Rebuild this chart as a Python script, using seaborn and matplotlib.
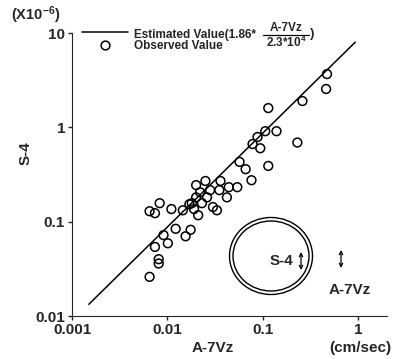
import matplotlib
matplotlib.use("Agg")
import matplotlib.pyplot as plt
import seaborn as sns
from matplotlib.lines import Line2D
from matplotlib.patches import Ellipse, FancyArrowPatch

obs_x = [0.47, 0.46, 0.26, 0.114, 0.139, 0.106, 0.088, 0.078, 0.094, 0.23,
         0.057, 0.066, 0.114, 0.076, 0.036, 0.025, 0.044, 0.054, 0.020, 0.028,
         0.035, 0.022, 0.020, 0.026, 0.042, 0.018, 0.023, 0.030, 0.033, 0.021,
         0.019, 0.017, 0.0145, 0.011, 0.0083, 0.0074, 0.0065, 0.0122, 0.0175, 0.0155,
         0.0091, 0.0101, 0.0074, 0.0081, 0.0081, 0.0065]
obs_y = [3.67, 2.55, 1.9, 1.6, 0.91, 0.91, 0.79, 0.665, 0.60, 0.69,
         0.43, 0.36, 0.39, 0.275, 0.27, 0.27, 0.232, 0.232, 0.244, 0.216,
         0.216, 0.205, 0.181, 0.181, 0.181, 0.157, 0.157, 0.143, 0.132, 0.117,
         0.136, 0.153, 0.132, 0.136, 0.157, 0.123, 0.129, 0.084, 0.082, 0.070,
         0.072, 0.059, 0.054, 0.040, 0.036, 0.026]

# estimated line
est_x = [0.0015, 0.93]
est_y = [0.0133, 8.0]

xticks = [0.001, 0.01, 0.1, 1]
xtick_labels = ["0.001", "0.01", "0.1", "1"]
yticks = [0.01, 0.1, 1, 10]
ytick_labels = ["0.01", "0.1", "1", "10"]

sns.set_style("ticks")
plt.rcParams['font.family'] = ['Liberation Sans', 'DejaVu Sans']
plt.rcParams['font.weight'] = 'bold'
plt.rcParams['mathtext.fontset'] = 'custom'
plt.rcParams['mathtext.rm'] = 'Liberation Sans:bold'
plt.rcParams['mathtext.bf'] = 'Liberation Sans:bold'
plt.rcParams['mathtext.default'] = 'bf'

W, H = 395, 359
def px(x):
    return x / W
def py(y):
    return 1 - y / H

fig = plt.figure(figsize=(W / 100, H / 100), dpi=100)
ax = fig.add_axes([px(72), py(316), px(387) - px(72), py(33) - py(316)])
ax.set_xscale('log')
ax.set_yscale('log')

sns.lineplot(x=est_x, y=est_y, color='black', lw=1.1, ax=ax)
sns.scatterplot(x=obs_x, y=obs_y, marker='o', s=40, facecolor='none',
                edgecolor='black', linewidth=1.1, ax=ax)

ax.set_xlim(0.001, 2.0)
ax.set_ylim(0.01, 10)
ax.minorticks_off()
ax.set_xticks(xticks, xtick_labels)
ax.set_yticks(yticks, ytick_labels)
ax.tick_params(labelsize=11, length=3, width=1, pad=2)
sns.despine(ax=ax)

# labels
fig.text(px(36), py(15), r"(X10$^{-6}$)", fontsize=10.5, ha='center', va='center')
fig.text(px(26), py(153), "S-4", fontsize=11, rotation=90, ha='center', va='center')
fig.text(px(213), py(348), "A-7Vz", fontsize=11, ha='center', va='center')
fig.text(px(360), py(348), "(cm/sec)", fontsize=11, ha='center', va='center')

# legend drawn by hand
LEG = 8.5
fig.add_artist(Line2D([px(82), px(128)], [py(32), py(32)], color='black', lw=1.1))
fig.add_artist(Line2D([px(105)], [py(45)], marker='o', ms=6.3, mfc='none',
                      mec='black', mew=1.1, ls='none'))
fig.text(px(134), py(35), "Estimated Value(1.86*", fontsize=LEG, ha='left', va='center')
fig.text(px(286), py(28), "A-7Vz", fontsize=LEG, ha='center', va='center')
fig.add_artist(Line2D([px(263), px(309)], [py(35), py(35)], color='black', lw=0.9))
fig.text(px(286), py(42.5), r"2.3*10$^4$", fontsize=LEG, ha='center', va='center')
fig.text(px(310), py(34), ")", fontsize=LEG + 1, ha='left', va='center')
fig.text(px(134), py(46), "Observed Value", fontsize=LEG, ha='left', va='center')

# explanation inset: double circle with arrows
for w, h in [(83, 77), (76, 70)]:
    fig.add_artist(Ellipse((px(271), py(256)), w / W, h / H, fill=False,
                           color='black', lw=1.0))
fig.text(px(281), py(261), "S-4", fontsize=11, ha='center', va='center')
for xa, y0, y1 in [(301, 252, 270), (341, 250, 268)]:
    fig.add_artist(FancyArrowPatch((px(xa), py(y1)), (px(xa), py(y0)),
                                   transform=fig.transFigure, arrowstyle='<->',
                                   mutation_scale=6, lw=0.9, color='black',
                                   shrinkA=0, shrinkB=0))
fig.text(px(350), py(290), "A-7Vz", fontsize=11, ha='center', va='center')

fig.savefig("out.png", dpi=100)
